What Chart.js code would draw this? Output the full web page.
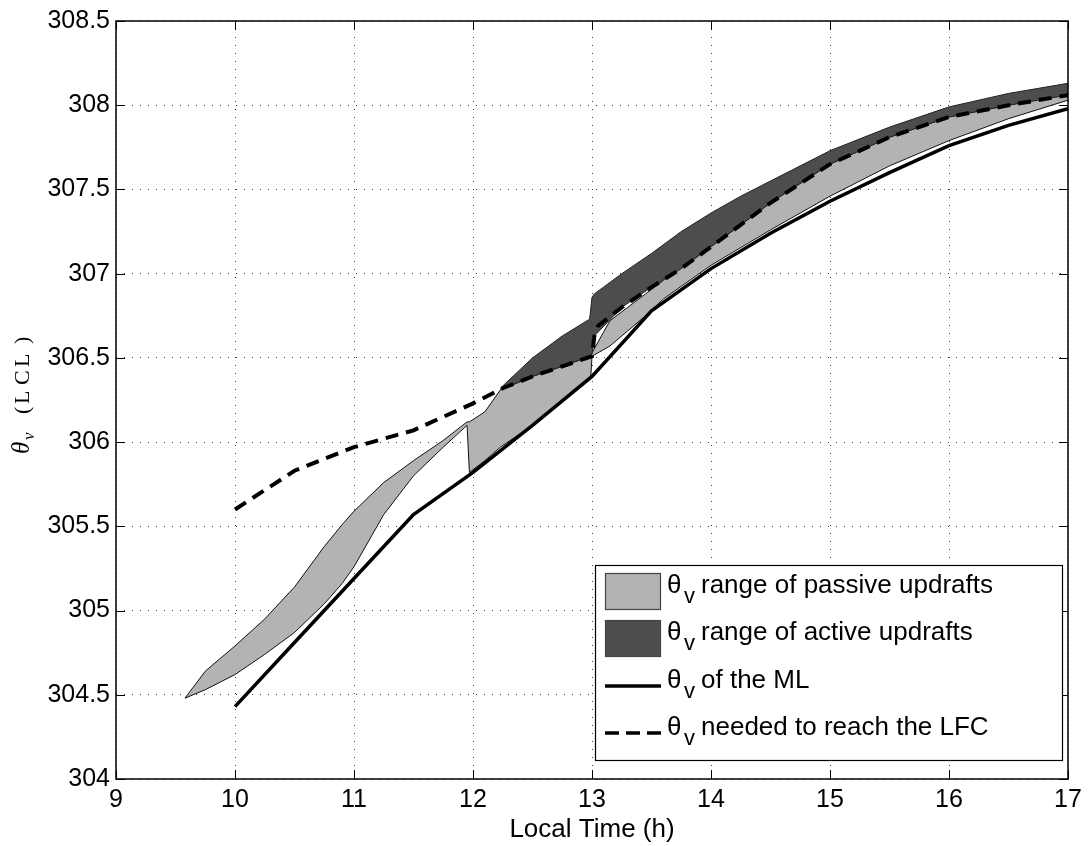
<!DOCTYPE html>
<html>
<head>
<meta charset="utf-8">
<script src="https://cdn.jsdelivr.net/npm/chart.js@4.4.0/dist/chart.umd.min.js"></script>
<style>
  body { margin: 0; background: #fff; }
  #wrap { width: 1089px; height: 846px; }
</style>
</head>
<body>
<div id="wrap"><canvas id="thetaChart"></canvas></div>
<script>
// passive updrafts range (light grey band)
const passiveTime = [9.58, 9.75, 10.0, 10.25, 10.5, 10.75, 10.9, 11.0, 11.25, 11.5, 11.75, 11.95, 11.97, 12.1, 12.23,
    12.5, 12.75, 12.99, 13.0, 13.15, 13.3, 13.45, 13.6, 14.0, 14.5, 15.0, 15.5, 16.0, 16.5, 17.0];
const passiveLow = [304.48, 304.53, 304.62, 304.74, 304.87, 305.04, 305.16, 305.26, 305.57, 305.80, 305.97, 306.10, 305.82, 305.89, 305.97,
    306.10, 306.25, 306.39, 306.51, 306.57, 306.66, 306.75, 306.85, 307.05, 307.26, 307.46, 307.64, 307.79, 307.92, 308.03];
const passiveHigh = [304.48, 304.64, 304.79, 304.95, 305.14, 305.38, 305.51, 305.59, 305.76, 305.89, 306.01, 306.12, 306.12, 306.18, 306.31,
    306.39, 306.45, 306.51, 306.53, 306.72, 306.80, 306.88, 306.96, 307.16, 307.42, 307.65, 307.81, 307.93, 308.00, 308.07];

// active updrafts range (dark band)
const activeTime = [12.23, 12.5, 12.75, 12.98, 13.0, 13.02, 13.25, 13.5, 13.75, 14.0, 14.25, 14.5, 14.75, 15.0, 15.5, 16.0, 16.5, 17.0];
const activeLow = [306.31, 306.39, 306.45, 306.51, 306.52, 306.63, 306.80, 306.92, 307.03, 307.16, 307.29, 307.42, 307.54, 307.65, 307.81, 307.93, 308.00, 308.06];
const activeHigh = [306.32, 306.50, 306.63, 306.73, 306.86, 306.88, 307.00, 307.12, 307.25, 307.36, 307.46, 307.55, 307.64, 307.73, 307.87, 307.99, 308.07, 308.13];

// theta_v of the mixed layer
const mlTime = [10, 10.5, 11, 11.5, 12, 12.5, 13, 13.5, 14, 14.5, 15, 15.5, 16, 16.5, 17];
const mlTheta = [304.43, 304.81, 305.19, 305.57, 305.82, 306.10, 306.39, 306.78, 307.03, 307.24, 307.43, 307.60, 307.76, 307.88, 307.98];

// theta_v needed to reach the LFC
const lfcTime = [10, 10.5, 11, 11.5, 12, 12.25, 12.5, 12.75, 13, 13.02, 13.05, 13.25, 13.5, 13.75, 14, 14.5, 15, 15.5, 16, 16.5, 17];
const lfcTheta = [305.60, 305.83, 305.97, 306.07, 306.23, 306.32, 306.39, 306.45, 306.51, 306.63, 306.69, 306.80, 306.92, 307.03, 307.16, 307.42, 307.65, 307.81, 307.93, 308.00, 308.06];

const xTicks = [9, 10, 11, 12, 13, 14, 15, 16, 17];
const yTicks = [304, 304.5, 305, 305.5, 306, 306.5, 307, 307.5, 308, 308.5];

const legendLabels = ['range of passive updrafts', 'range of active updrafts', 'of the ML', 'needed to reach the LFC'];

const LIGHT = '#b3b3b3';
const DARK = '#4d4d4d';
const SANS = '"Liberation Sans", Arial, Helvetica, sans-serif';
const SERIF = '"Liberation Serif", "DejaVu Serif", serif';

const toXY = (xs, ys) => xs.map((x, i) => ({ x: x, y: ys[i] }));

const frame = {
    id: 'frame',
    afterDatasetsDraw(chart) {
        const { ctx, chartArea: a, scales } = chart;
        ctx.save();
        ctx.strokeStyle = '#000';
        ctx.lineWidth = 1;
        ctx.beginPath();
        xTicks.forEach(v => {
            const px = Math.round(scales.x.getPixelForValue(v)) + 0.5;
            ctx.moveTo(px, a.bottom); ctx.lineTo(px, a.bottom - 9);
            ctx.moveTo(px, a.top); ctx.lineTo(px, a.top + 9);
        });
        yTicks.forEach(v => {
            const py = Math.round(scales.y.getPixelForValue(v)) + 0.5;
            ctx.moveTo(a.left, py); ctx.lineTo(a.left + 9, py);
            ctx.moveTo(a.right, py); ctx.lineTo(a.right - 9, py);
        });
        ctx.stroke();
        ctx.lineWidth = 1.5;
        ctx.strokeRect(a.left, a.top, a.right - a.left, a.bottom - a.top);
        ctx.restore();
    },
    afterDraw(chart) {
        const { ctx, chartArea: a } = chart;
        ctx.save();

        // legend box
        const bx = 595, by = 565, bw = 467, bh = 195;
        ctx.fillStyle = '#fff';
        ctx.fillRect(bx, by, bw, bh);
        ctx.strokeStyle = '#000';
        ctx.lineWidth = 1.2;
        ctx.strokeRect(bx + 0.5, by + 0.5, bw, bh);

        const rows = [591, 638, 686, 733];
        // swatches
        [LIGHT, DARK].forEach((c, i) => {
            ctx.fillStyle = c;
            ctx.fillRect(605, rows[i] - 18, 56, 37);
            ctx.strokeStyle = '#444';
            ctx.lineWidth = 1.2;
            ctx.strokeRect(605.5, rows[i] - 17.5, 55, 36);
        });
        ctx.strokeStyle = '#000';
        ctx.lineWidth = 3.5;
        ctx.beginPath();
        ctx.moveTo(605, rows[2]); ctx.lineTo(661, rows[2]);
        ctx.stroke();
        ctx.setLineDash([14, 7]);
        ctx.beginPath();
        ctx.moveTo(605, rows[3]); ctx.lineTo(661, rows[3]);
        ctx.stroke();
        ctx.setLineDash([]);

        ctx.fillStyle = '#000';
        ctx.textBaseline = 'alphabetic';
        ctx.textAlign = 'left';
        legendLabels.forEach((t, i) => {
            const base = rows[i] + 2;
            ctx.font = '26px ' + SANS;
            ctx.fillText('\u03b8', 667, base);
            ctx.font = '22px ' + SANS;
            ctx.fillText('v', 684, base + 10);
            ctx.font = '26px ' + SANS;
            ctx.fillText(t, 701, base);
        });

        // x axis title
        ctx.font = '26px ' + SANS;
        ctx.textAlign = 'center';
        ctx.fillText('Local Time (h)', (a.left + a.right) / 2, 837);

        // y axis title, rotated
        ctx.translate(29, 454);
        ctx.rotate(-Math.PI / 2);
        ctx.textAlign = 'left';
        ctx.font = 'italic 25px ' + SERIF;
        ctx.fillText('\u03b8', 0, 0);
        ctx.font = 'italic 17px ' + SERIF;
        ctx.fillText('v', 14, 5);
        ctx.font = '22px ' + SERIF;
        const parts = [['(', 40], ['L', 50], ['C', 69], ['L', 87], [')', 110]];
        parts.forEach(p => ctx.fillText(p[0], p[1], 0));
        ctx.restore();
    }
};

const ctx = document.getElementById('thetaChart').getContext('2d');
new Chart(ctx, {
    type: 'line',
    data: {
        datasets: [
            {
                label: 'passive low',
                data: toXY(passiveTime, passiveLow),
                borderColor: '#111',
                borderWidth: 1,
                fill: false,
                order: 5
            },
            {
                label: 'passive high',
                data: toXY(passiveTime, passiveHigh),
                borderColor: '#111',
                borderWidth: 1,
                backgroundColor: LIGHT,
                fill: 0,
                order: 6
            },
            {
                label: 'active low',
                data: toXY(activeTime, activeLow),
                borderColor: '#222',
                borderWidth: 1,
                fill: false,
                order: 3
            },
            {
                label: 'active high',
                data: toXY(activeTime, activeHigh),
                borderColor: '#222',
                borderWidth: 1,
                backgroundColor: DARK,
                fill: 2,
                order: 4
            },
            {
                label: 'LFC',
                data: toXY(lfcTime, lfcTheta),
                borderColor: '#000',
                borderWidth: 4,
                borderDash: [13, 8],
                fill: false,
                order: 1
            },
            {
                label: 'ML',
                data: toXY(mlTime, mlTheta),
                borderColor: '#000',
                borderWidth: 3.5,
                fill: false,
                order: 0
            }
        ]
    },
    options: {
        responsive: true,
        maintainAspectRatio: false,
        animation: false,
        elements: { point: { radius: 0 }, line: { tension: 0 } },
        layout: { padding: { top: 15, right: 21, left: 0, bottom: 0 } },
        plugins: {
            legend: { display: false },
            tooltip: { enabled: false }
        },
        scales: {
            x: {
                type: 'linear',
                min: 9,
                max: 17,
                afterFit: s => { s.height = 67; },
                afterBuildTicks: s => { s.ticks = xTicks.map(v => ({ value: v })); },
                ticks: { color: '#000', padding: 6, font: { family: SANS, size: 25 }, callback: v => String(v) },
                grid: { color: 'rgba(0,0,0,0.75)', lineWidth: 1, drawTicks: false },
                border: { display: false, dash: [1, 7] }
            },
            y: {
                min: 304,
                max: 308.5,
                afterFit: s => { s.width = 116; },
                afterBuildTicks: s => { s.ticks = yTicks.map(v => ({ value: v })); },
                ticks: { color: '#000', padding: 6, font: { family: SANS, size: 25 }, callback: v => String(v) },
                grid: { color: 'rgba(0,0,0,0.75)', lineWidth: 1, drawTicks: false },
                border: { display: false, dash: [1, 7] }
            }
        }
    },
    plugins: [frame]
});
</script>
</body>
</html>
